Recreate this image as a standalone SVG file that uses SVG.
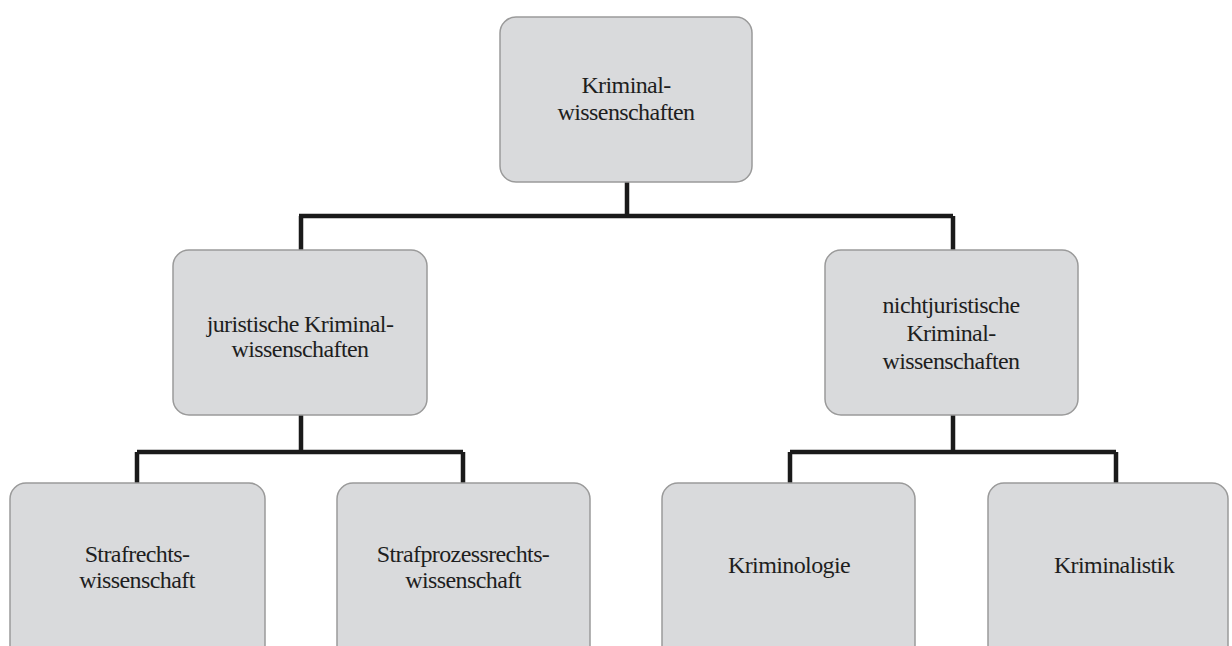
<svg xmlns="http://www.w3.org/2000/svg" width="1232" height="646" viewBox="0 0 1232 646">
<style>
.box{fill:#d9dadc;stroke:#9a9a9a;stroke-width:1.5}
.t{font-size:24px;fill:#1e1e1e;text-anchor:middle;letter-spacing:-0.6px}
.c{fill:none;stroke:#1a1a1a;stroke-width:4.5;stroke-linejoin:miter}
</style>
<rect width="1232" height="646" fill="#ffffff"/>
<g id="connectors">
<path class="c" d="M627 182 V216 M299 216 H953 M301 216 V250 M953 216 V250"/>
<path class="c" d="M301 415 V452 M137 452 H463 M137 452 V483 M463 452 V483"/>
<path class="c" d="M953 415 V452 M790 452 H1116 M790 452 V483 M1116 452 V483"/>
</g>
<g font-family="Liberation Serif, DejaVu Serif, serif">
<g id="root">
<rect class="box" x="500" y="17" width="252" height="165" rx="16"/>
<text class="t" x="626" y="93">Kriminal-</text>
<text class="t" x="626" y="120">wissenschaften</text>
</g>
<g id="juristisch">
<rect class="box" x="173" y="250" width="254" height="165" rx="16"/>
<text class="t" x="300" y="332">juristische Kriminal-</text>
<text class="t" x="300" y="357">wissenschaften</text>
</g>
<g id="nichtjuristisch">
<rect class="box" x="825" y="250" width="253" height="165" rx="16"/>
<text class="t" x="951" y="313">nichtjuristische</text>
<text class="t" x="951" y="341">Kriminal-</text>
<text class="t" x="951" y="369">wissenschaften</text>
</g>
<g id="strafrecht">
<rect class="box" x="10" y="483" width="255" height="180" rx="16"/>
<text class="t" x="137" y="562">Strafrechts-</text>
<text class="t" x="137" y="588">wissenschaft</text>
</g>
<g id="strafprozess">
<rect class="box" x="337" y="483" width="253" height="180" rx="16"/>
<text class="t" x="463" y="562">Strafprozessrechts-</text>
<text class="t" x="463" y="588">wissenschaft</text>
</g>
<g id="kriminologie">
<rect class="box" x="662" y="483" width="253" height="180" rx="16"/>
<text class="t" x="789" y="573">Kriminologie</text>
</g>
<g id="kriminalistik">
<rect class="box" x="988" y="483" width="240" height="180" rx="16"/>
<text class="t" x="1114" y="573">Kriminalistik</text>
</g>
</g>
</svg>
